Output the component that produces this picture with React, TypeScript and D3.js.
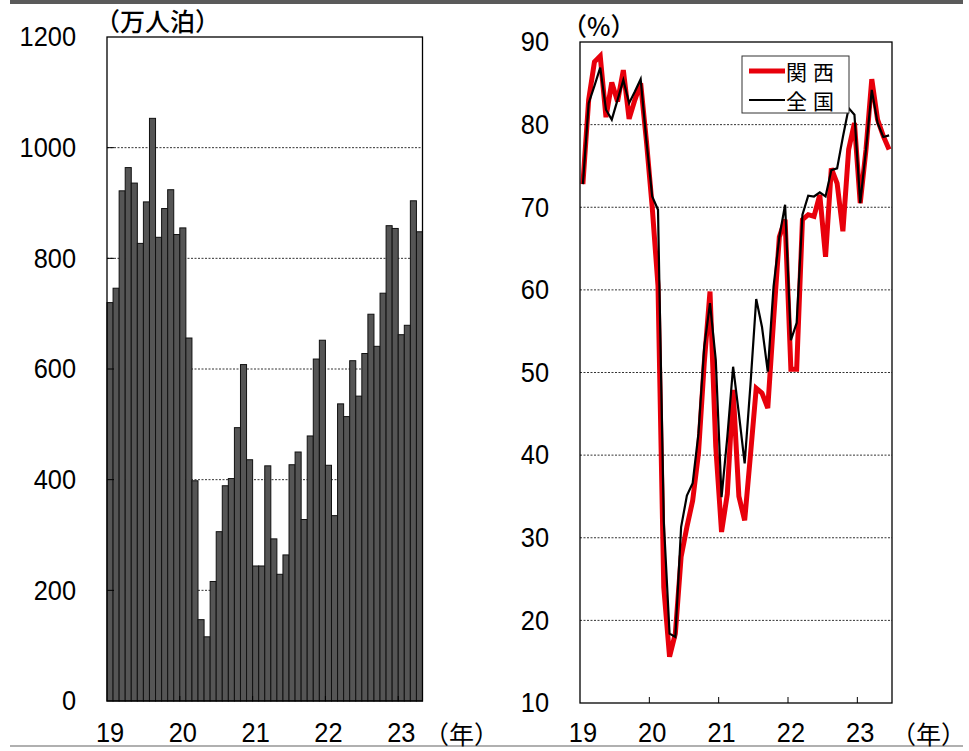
import React from 'react';
import * as d3 from 'd3';

// Monthly guest nights in Kansai (10,000 person-nights), Jan 2019 – Apr 2023
const guestNights: number[] = [
  720, 746, 922, 964, 936, 827, 902, 1053, 838, 890, 924, 843,
  855, 656, 398, 147, 116, 216, 306, 389, 402, 494, 608, 436,
  244, 244, 425, 293, 229, 264, 427, 450, 328, 479, 618, 652,
  426, 335, 537, 514, 615, 551, 628, 699, 641, 737, 859, 854,
  662, 679, 904, 848,
];

// Hotel occupancy rate (%), Jan 2019 – Jun 2023
const occKansai: number[] = [
  72.8, 83.0, 87.6, 88.3, 80.9, 85.1, 82.8, 86.6, 80.7, 83.0, 85.0, 78.0,
  70.0, 60.5, 24.0, 15.6, 18.4, 27.7, 31.3, 34.5, 40.2, 51.1, 59.8, 41.0,
  30.7, 35.3, 47.9, 35.0, 32.1, 40.0, 48.1, 47.5, 45.7, 56.3, 66.4, 68.5,
  50.4, 50.4, 68.5, 69.1, 68.9, 71.5, 64.0, 74.7, 72.9, 67.1, 77.0, 80.2,
  70.5, 77.0, 85.5, 80.6, 78.6, 77.0,
];

const occNational: number[] = [
  72.8, 82.6, 84.7, 86.9, 81.8, 80.6, 83.0, 85.4, 82.6, 84.0, 85.5, 78.0,
  71.3, 69.7, 32.0, 18.4, 18.0, 31.3, 35.1, 36.6, 42.6, 53.1, 58.4, 51.5,
  34.9, 42.2, 50.7, 45.0, 39.0, 48.5, 58.9, 55.5, 50.1, 60.4, 66.4, 70.3,
  53.9, 56.0, 69.1, 71.4, 71.3, 71.8, 71.3, 74.5, 74.7, 78.5, 82.0, 81.2,
  70.5, 77.0, 84.2, 80.2, 78.5, 78.7,
];

const yearLabels: string[] = ['19', '20', '21', '22', '23'];
const barTicks: number[] = [0, 200, 400, 600, 800, 1000, 1200];
const occTicks: number[] = [10, 20, 30, 40, 50, 60, 70, 80, 90];
const seriesNames: string[] = ['関西', '全国'];

const NUM_FONT = '"Liberation Sans", Arial, sans-serif';
const JP_FONT = '"Noto Sans CJK JP", "Noto Sans", sans-serif';
const RED = '#e8000b';

function NarrowText(props: { x: number; y: number; anchor?: string; children: React.ReactNode }) {
  const { x, y, anchor = 'middle', children } = props;
  return (
    <text
      transform={`translate(${x},${y}) scale(0.94,1)`}
      textAnchor={anchor}
      dominantBaseline="central"
      fontFamily={NUM_FONT}
      fontSize={27}
      fill="#000"
    >
      {children}
    </text>
  );
}

export default function App() {
  const W = 969;
  const H = 751;

  // Left panel: guest nights
  const L = { left: 107, right: 422.5, top: 37, bottom: 701 };
  const xBar = d3.scaleBand<number>().domain(d3.range(guestNights.length)).range([L.left, L.right]).padding(0);
  const yBar = d3.scaleLinear().domain([0, 1200]).range([L.bottom, L.top]);

  // Right panel: occupancy
  const R = { left: 580, right: 892, top: 42, bottom: 703 };
  const xOcc = d3.scaleBand<number>().domain(d3.range(occKansai.length)).range([R.left, R.right]).padding(0);
  const yOcc = d3.scaleLinear().domain([10, 90]).range([R.bottom, R.top]);
  const cx = (i: number) => (xOcc(i) as number) + xOcc.bandwidth() / 2;
  const lineGen = d3.line<number>().x((_, i) => cx(i)).y((v) => yOcc(v));

  const yearStarts = yearLabels.map((_, k) => k * 12);
  const xLabelY = 733;

  return (
    <svg
      width={W}
      height={H}
      viewBox={`0 0 ${W} ${H}`}
      style={{ position: 'absolute', left: 0, top: 0, background: '#fff' }}
    >
      {/* header rule and footer rule */}
      <rect x={10} y={0} width={953} height={4} fill="#5a5a5a" />
      <rect x={10} y={745} width={953} height={2} fill="#b0b0b0" />

      {/* ---------- Left panel ---------- */}
      <text x={95} y={20} dominantBaseline="central" fontFamily={JP_FONT} fontSize={25} fontWeight={500} fill="#000">
        （万人泊）
      </text>
      {barTicks.slice(1, -1).map((t) => (
        <line
          key={`lg${t}`}
          x1={L.left}
          x2={L.right}
          y1={yBar(t)}
          y2={yBar(t)}
          stroke="#333"
          strokeWidth={1}
          strokeDasharray="2 1.5"
        />
      ))}
      {guestNights.map((v, i) => (
        <rect
          key={`b${i}`}
          x={xBar(i) as number}
          y={yBar(v)}
          width={xBar.bandwidth()}
          height={yBar(0) - yBar(v)}
          fill="#555"
          stroke="#111"
          strokeWidth={1}
        />
      ))}
      {barTicks.slice(1, -1).map((t) => (
        <line key={`lt${t}`} x1={L.left} x2={L.left + 7} y1={yBar(t)} y2={yBar(t)} stroke="#000" strokeWidth={1} />
      ))}
      {yearStarts.slice(1).map((s) => (
        <line
          key={`lx${s}`}
          x1={xBar(s) as number}
          x2={xBar(s) as number}
          y1={L.bottom}
          y2={L.bottom - 5}
          stroke="#000"
          strokeWidth={1}
        />
      ))}
      <rect
        x={L.left}
        y={L.top}
        width={L.right - L.left}
        height={L.bottom - L.top}
        fill="none"
        stroke="#000"
        strokeWidth={1.3}
      />
      {barTicks.map((t) => (
        <NarrowText key={`ly${t}`} x={76} y={yBar(t)} anchor="end">
          {t}
        </NarrowText>
      ))}
      {yearLabels.map((lab, k) => (
        <NarrowText key={`lxl${lab}`} x={(xBar(yearStarts[k]) as number) + xBar.bandwidth() / 2} y={xLabelY}>
          {lab}
        </NarrowText>
      ))}
      <text x={424} y={xLabelY} dominantBaseline="central" fontFamily={JP_FONT} fontSize={25} fill="#000">
        （年）
      </text>

      {/* ---------- Right panel ---------- */}
      <text x={562} y={25} dominantBaseline="central" fontFamily={JP_FONT} fontSize={25} fontWeight={500} fill="#000">
        （%）
      </text>
      {occTicks.slice(1, -1).map((t) => (
        <line
          key={`rg${t}`}
          x1={R.left}
          x2={R.right}
          y1={yOcc(t)}
          y2={yOcc(t)}
          stroke="#333"
          strokeWidth={1}
          strokeDasharray="2 1.5"
        />
      ))}
      <path d={lineGen(occKansai) as string} fill="none" stroke={RED} strokeWidth={5} />
      <path d={lineGen(occNational) as string} fill="none" stroke="#000" strokeWidth={2.2} />
      {yearStarts.slice(1).map((s) => (
        <line
          key={`rx${s}`}
          x1={xOcc(s) as number}
          x2={xOcc(s) as number}
          y1={R.bottom}
          y2={R.bottom - 6}
          stroke="#000"
          strokeWidth={1}
        />
      ))}
      <rect
        x={R.left}
        y={R.top}
        width={R.right - R.left}
        height={R.bottom - R.top}
        fill="none"
        stroke="#000"
        strokeWidth={1.3}
      />
      {occTicks.map((t) => (
        <NarrowText key={`ry${t}`} x={549} y={yOcc(t)} anchor="end">
          {t}
        </NarrowText>
      ))}
      {yearLabels.map((lab, k) => (
        <NarrowText key={`rxl${lab}`} x={cx(yearStarts[k])} y={xLabelY}>
          {lab}
        </NarrowText>
      ))}
      <text x={891} y={xLabelY} dominantBaseline="central" fontFamily={JP_FONT} fontSize={25} fill="#000">
        （年）
      </text>

      {/* legend */}
      <rect x={742} y={56} width={107} height={57} fill="#fff" stroke="#333" strokeWidth={1} />
      <line x1={749} x2={785} y1={71} y2={71} stroke={RED} strokeWidth={5} />
      <line x1={749} x2={785} y1={100} y2={100} stroke="#000" strokeWidth={2} />
      {seriesNames.map((name, k) => (
        <text
          key={name}
          x={786}
          y={k === 0 ? 71 : 100}
          dominantBaseline="central"
          fontFamily={JP_FONT}
          fontSize={21}
          letterSpacing={6}
          fill="#000"
        >
          {name}
        </text>
      ))}
    </svg>
  );
}
